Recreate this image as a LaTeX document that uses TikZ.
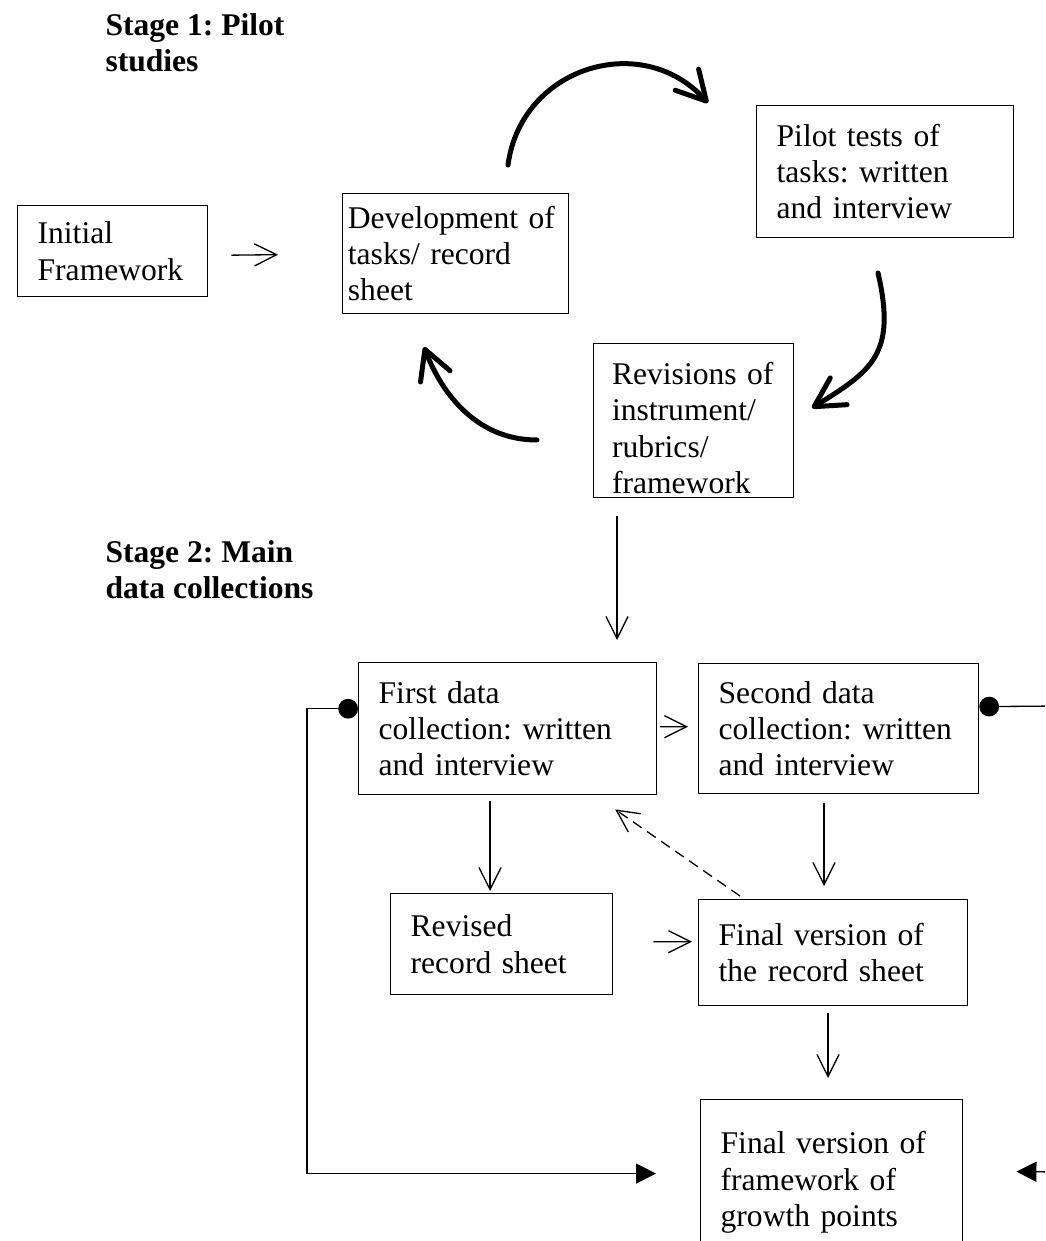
\documentclass[tikz,border=0pt]{standalone}
\usepackage{fontspec}
\setmainfont{Liberation Serif}
\usetikzlibrary{arrows.meta,calc,positioning}
\frenchspacing

\begin{document}
\begin{tikzpicture}[x=0.38pt,y=-0.38pt,
    box/.style={draw, line width=0.5pt, align=left, anchor=north west,
      inner xsep=7.6pt, inner ysep=0pt, font=\fontsize{12}{13.8}\selectfont},
    stage/.style={align=left, anchor=north west, inner sep=0pt,
      font=\fontsize{12}{13.8}\selectfont\bfseries},
    arr/.style={line width=0.5pt, -{Straight Barb[length=8.4pt,width=8.4pt]}},
    cyc/.style={line width=1.9pt, line cap=round,
      -{Straight Barb[length=11pt,width=12pt,round]}},
    backline/.style={line width=0.5pt,
      {Circle[length=7.5pt]}-{Triangle[length=7.6pt,width=7.6pt]}}]
  \useasboundingbox (0,0) rectangle (1045,1241);
  \clip (0,0) rectangle (1045,1241);

  % Stage headings
  \node[stage] (st1) at (105,13) {Stage 1: Pilot\\studies};
  \node[stage] (st2) at (105,540) {Stage 2: Main\\data collections};

  % Stage 1 boxes
  \node[box, text width=57pt, minimum height=34.6pt] (init) at (17,205) {Initial\\Framework};
  \node[box, inner xsep=2pt, text width=81.9pt, minimum height=45.6pt] (devel) at (342,193) {Development of\\tasks/ record\\sheet};
  \node[box, text width=82.5pt, minimum height=50.2pt] (pilot) at (756,105) {Pilot tests of\\tasks: written\\and interview};
  \node[box, inner xsep=7pt, text width=62pt, minimum height=58.5pt] (revis) at (593,343) {\rule{0pt}{14pt}Revisions of\\instrument/\\rubrics/\\framework};

  % Stage 2 boxes
  \node[box, text width=98pt, minimum height=50.2pt] (first) at (358,662) {First data\\collection: written\\and interview};
  \node[box, text width=91.2pt, minimum height=49.4pt] (second) at (698,663) {Second data\\collection: written\\and interview};
  \node[box, text width=69.2pt, minimum height=38.4pt] (revsh) at (390,893) {Revised\\record sheet};
  \node[box, text width=87pt, minimum height=40.3pt] (finrec) at (698,899) {Final version of\\the record sheet};
  \node[box, text width=84.4pt, minimum height=63pt] (finfw) at (700,1099) {Final version of\\framework of\\growth points};

  % Cycle arrows
  \coordinate (cyc1s) at (508,165);
  \coordinate (cyc1e) at (708,103);
  \coordinate (cyc2s) at (878,273);
  \coordinate (cyc2e) at (812,408);
  \coordinate (cyc3s) at (537,440);
  \coordinate (cyc3e) at (424,347);
  \draw[cyc] (cyc1s) .. controls (521,67) and (642,30) .. (cyc1e);
  \draw[cyc] (cyc2s) .. controls (897,355) and (871,371) .. (cyc2e);
  \draw[cyc] (cyc3s) .. controls (477,440) and (442,394) .. (cyc3e);

  % Straight arrows
  \draw[arr] ($(init.east)+(23,4)$) -- ($(devel.west)+(-64,1)$);
  \draw[arr] ($(revis.south west)+(24,18)$) -- ($(first.north west)+(259,-22)$);
  \draw[arr] ($(first.east)+(3,-2)$) -- ($(second.west)+(-10,-2)$);
  \draw[arr] ($(first.south west)+(132,6)$) -- ($(revsh.north west)+(100,-2)$);
  \draw[arr] ($(second.south west)+(126,9)$) -- ($(finrec.north west)+(126,-13)$);
  \draw[arr] ($(revsh.east)+(40,-2.5)$) -- ($(finrec.west)+(-6,-11)$);
  \draw[arr, dash pattern=on 4pt off 2.5pt] ($(finrec.north west)+(42,-3)$) -- ($(first.south east)+(-42,14)$);
  \draw[arr] ($(finrec.south west)+(130,7)$) -- ($(finfw.north west)+(128,-21)$);

  % Feedback lines
  \coordinate (outR) at (1060,706);
  \coordinate (inR) at (1060,1172);
  \draw[backline] ($(first.west)+(0,-20)$) -- ++(-51,0) |- ($(finfw.west)+(-44,-9)$);
  \draw[line width=0.5pt, {Circle[length=7.5pt]}-] ($(second.east)+(0,-22)$) -- (outR);
  \draw[line width=0.5pt, -{Triangle[length=7.6pt,width=7.6pt]}] (inR) -- ($(finfw.east)+(53,-11)$);
\end{tikzpicture}
\end{document}
